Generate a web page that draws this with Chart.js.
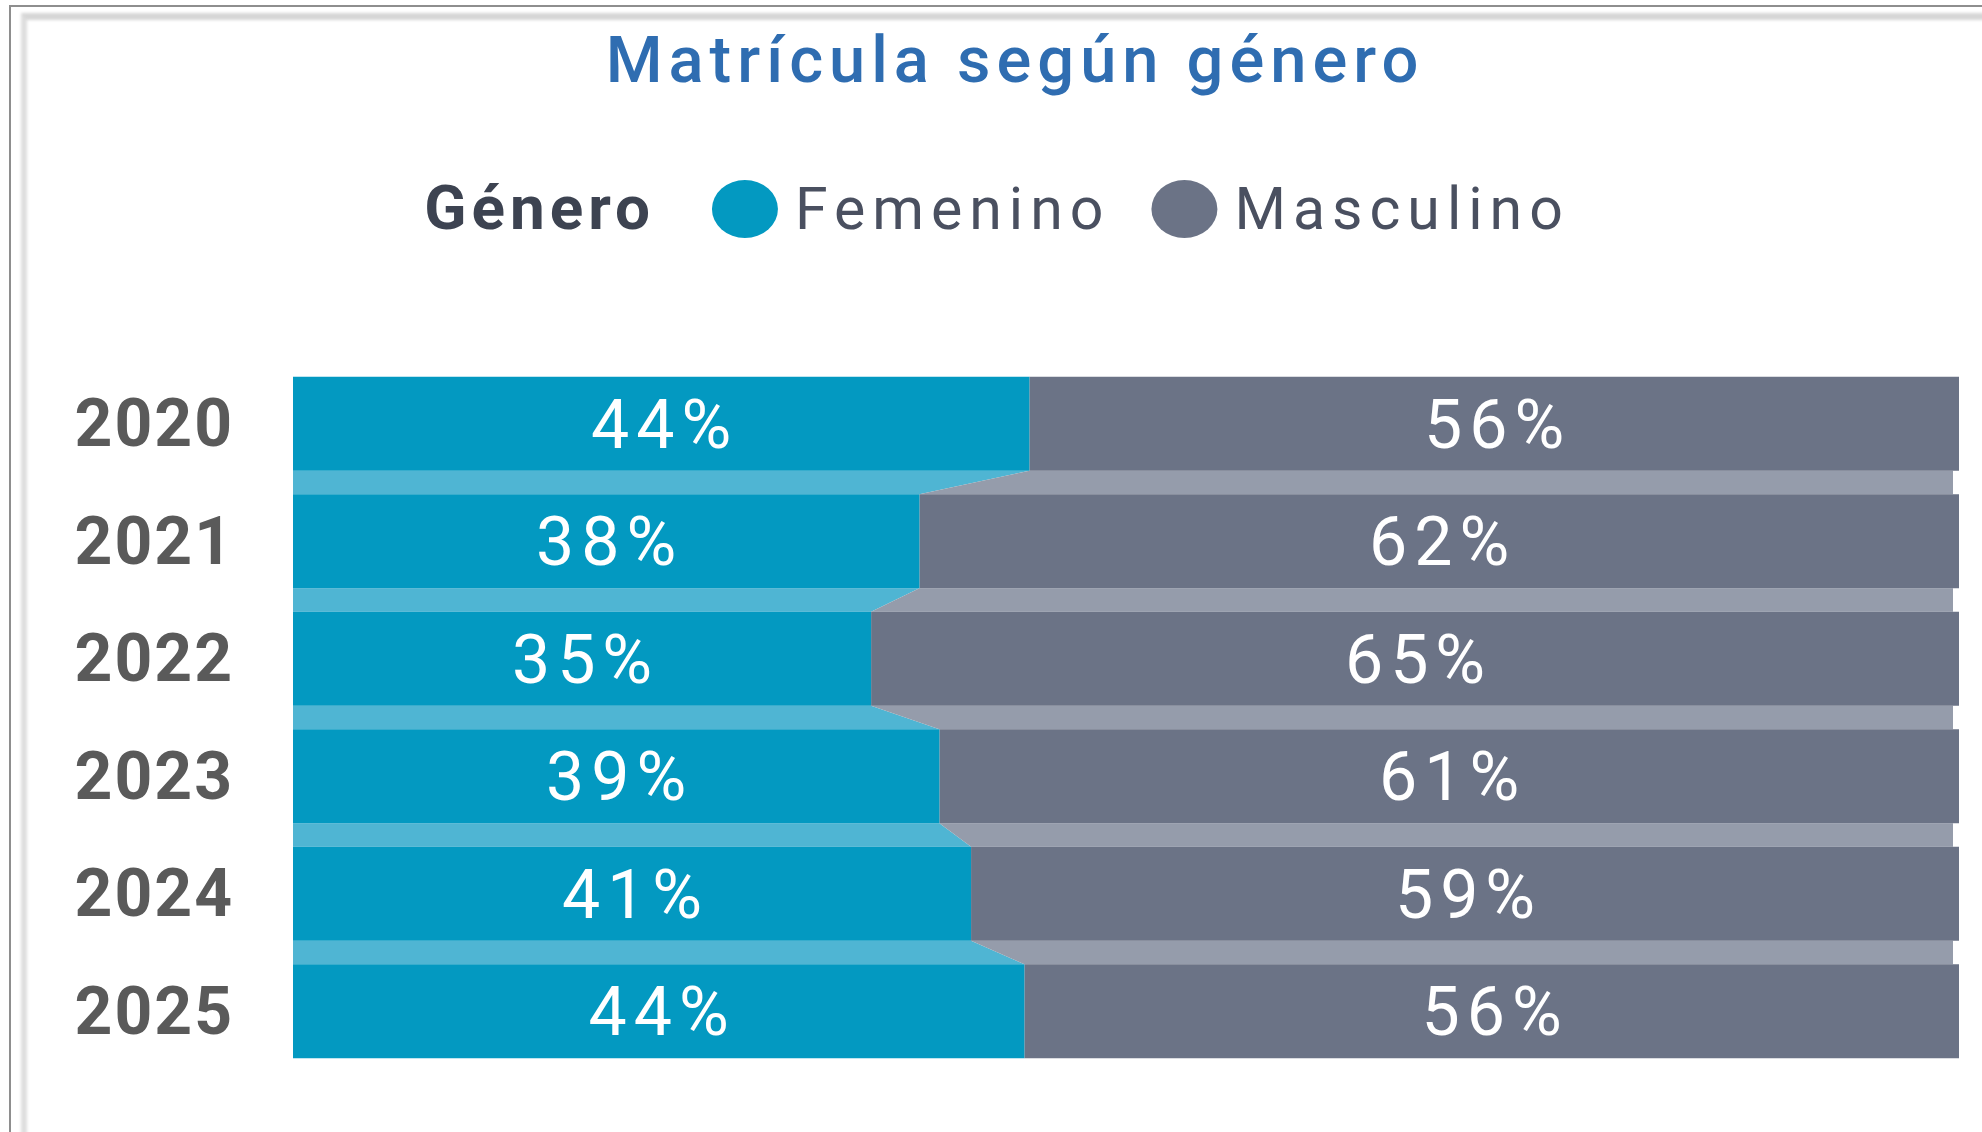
<!DOCTYPE html>
<html>
<head>
<meta charset="utf-8">
<script src="https://cdn.jsdelivr.net/npm/chart.js@4.4.1/dist/chart.umd.min.js"></script>
<style>
  html, body { margin: 0; padding: 0; background: #ffffff; }
  #wrap { position: relative; width: 1982px; height: 1132px; overflow: hidden; }
  #frame1 { position: absolute; left: 9px; top: 5px; width: 2100px; height: 1300px;
            border-left: 2px solid #8e8e8e; border-top: 2px solid #8e8e8e; }
  #frame2 { position: absolute; left: 21px; top: 13px; width: 2100px; height: 1300px;
            border-left: 6px solid #dedede; border-top: 7px solid #d6d6d6; filter: blur(1.5px); }
  canvas { position: absolute; left: 0; top: 0; }
</style>
</head>
<body>
<div id="wrap">
  <div id="frame1"></div>
  <div id="frame2"></div>
  <canvas id="c" width="1982" height="1132"></canvas>
</div>
<script>
const chartTitle = 'Matrícula según género';
const legendTitle = 'Género';
const years = ['2020', '2021', '2022', '2023', '2024', '2025'];
const seriesNames = ['Femenino', 'Masculino'];
const femenino = [44.2, 37.6, 34.7, 38.8, 40.7, 43.9];
const masculino = [55.8, 62.4, 65.3, 61.2, 59.3, 56.1];

const barColors = ['#0399c1', '#6b7386'];
const ribbonColors = ['#4fb5d3', '#959cab'];
const FONT = 'Roboto, "Noto Sans", sans-serif';

const spacingPlugin = {
  id: 'spacing',
  beforeDraw(chart) { chart.ctx.letterSpacing = '6px'; },
  afterDatasetsDraw(chart) { chart.ctx.letterSpacing = '2px'; }
};

const ribbonPlugin = {
  id: 'ribbons',
  beforeDatasetsDraw(chart) {
    const ctx = chart.ctx;
    const m0 = chart.getDatasetMeta(0).data;
    const m1 = chart.getDatasetMeta(1).data;
    ctx.save();
    for (let i = 0; i < m0.length - 1; i++) {
      const a0 = m0[i], b0 = m0[i + 1], a1 = m1[i], b1 = m1[i + 1];
      const yb = a0.y + a0.height / 2;
      const yt = b0.y - b0.height / 2;
      ctx.fillStyle = ribbonColors[0];
      ctx.beginPath();
      ctx.moveTo(a0.base, yb);
      ctx.lineTo(a0.x, yb);
      ctx.lineTo(b0.x, yt);
      ctx.lineTo(b0.base, yt);
      ctx.closePath();
      ctx.fill();
      ctx.fillStyle = ribbonColors[1];
      ctx.beginPath();
      ctx.moveTo(a1.base, yb);
      ctx.lineTo(a1.x - 6, yb);
      ctx.lineTo(b1.x - 6, yt);
      ctx.lineTo(b1.base, yt);
      ctx.closePath();
      ctx.fill();
    }
    ctx.restore();
  }
};

const labelPlugin = {
  id: 'barLabels',
  afterDatasetsDraw(chart) {
    const ctx = chart.ctx;
    ctx.save();
    ctx.letterSpacing = '7px';
    ctx.font = '400 68px ' + FONT;
    ctx.fillStyle = '#ffffff';
    ctx.textAlign = 'center';
    ctx.textBaseline = 'middle';
    chart.data.datasets.forEach((ds, di) => {
      chart.getDatasetMeta(di).data.forEach((el, i) => {
        const cx = (el.x + el.base) / 2 + 3.5;
        ctx.fillText(Math.round(ds.data[i]) + '%', cx, el.y + 7);
      });
    });
    ctx.restore();
  }
};

const legendPlugin = {
  id: 'customLegend',
  afterDraw(chart) {
    const ctx = chart.ctx;
    ctx.save();
    const baseY = 229, cy = 209;
    const rx = 33, ry = 29;
    ctx.letterSpacing = '5px';
    ctx.font = '700 62px ' + FONT;
    const wTitle = ctx.measureText(legendTitle).width;
    ctx.letterSpacing = '7px';
    ctx.font = '400 59px ' + FONT;
    const wItems = chart.data.datasets.map(d => ctx.measureText(d.label).width);
    const total = wTitle + 57 + (2 * rx + 17 + wItems[0]) + 41 + (2 * rx + 17 + wItems[1]);
    let x = chart.width / 2 - total / 2 + 6;
    ctx.textAlign = 'left';
    ctx.textBaseline = 'alphabetic';
    ctx.letterSpacing = '5px';
    ctx.font = '700 62px ' + FONT;
    ctx.fillStyle = '#3d4351';
    ctx.fillText(legendTitle, x, baseY);
    x += wTitle + 57;
    ctx.letterSpacing = '7px';
    ctx.font = '400 59px ' + FONT;
    chart.data.datasets.forEach((d, i) => {
      ctx.fillStyle = d.backgroundColor;
      ctx.beginPath();
      ctx.ellipse(x + rx, cy, rx, ry, 0, 0, Math.PI * 2);
      ctx.fill();
      x += 2 * rx + 17;
      ctx.fillStyle = '#4a5060';
      ctx.fillText(d.label, x, baseY);
      x += wItems[i] + 41;
    });
    ctx.restore();
  }
};

new Chart(document.getElementById('c'), {
  type: 'bar',
  data: {
    labels: years,
    datasets: [
      { label: seriesNames[0], data: femenino, backgroundColor: barColors[0] },
      { label: seriesNames[1], data: masculino, backgroundColor: barColors[1] }
    ]
  },
  options: {
    indexAxis: 'y',
    responsive: false,
    animation: false,
    devicePixelRatio: 1,
    barPercentage: 0.8,
    categoryPercentage: 1,
    layout: { padding: { left: 71, right: 23, top: 0, bottom: 62 } },
    scales: {
      x: { stacked: true, min: 0, max: 100, display: false },
      y: {
        stacked: true,
        grid: { display: false, drawTicks: false },
        border: { display: false },
        ticks: {
          z: 1,
          padding: 59,
          labelOffset: 6,
          color: '#5a5a5a',
          font: { family: FONT, size: 66, weight: '700' }
        },
        afterFit(scale) {
          scale.width = 222;
          scale.paddingTop = 0;
          scale.paddingBottom = 0;
        }
      }
    },
    plugins: {
      legend: { display: false },
      tooltip: { enabled: false },
      title: {
        display: true,
        text: chartTitle,
        color: '#2f6db1',
        font: { family: FONT, size: 65, weight: '500' },
        padding: { top: 27, bottom: 260 }
      }
    }
  },
  plugins: [spacingPlugin, ribbonPlugin, labelPlugin, legendPlugin]
});
</script>
</body>
</html>
